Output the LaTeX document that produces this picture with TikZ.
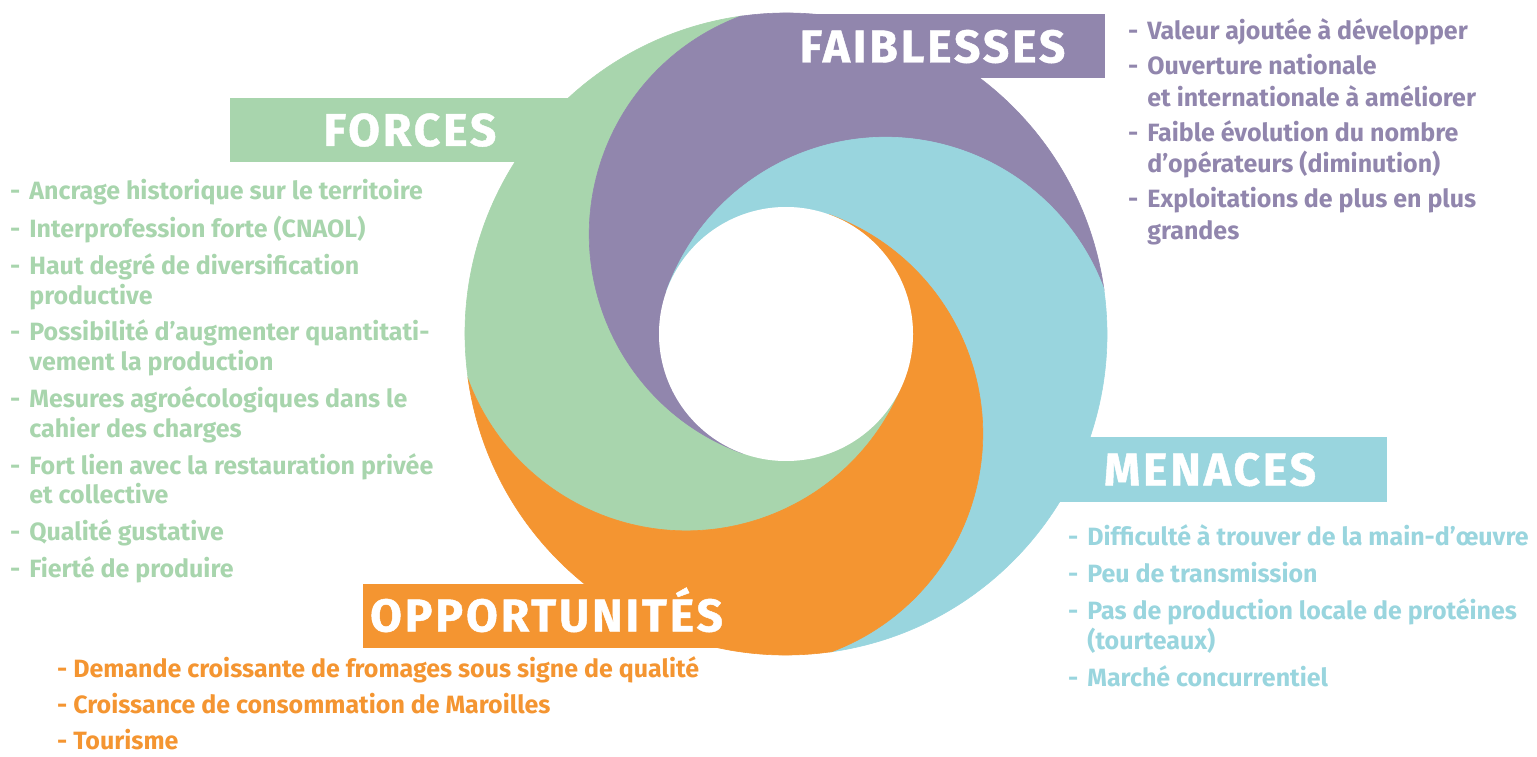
\documentclass[tikz,border=0pt]{standalone}
\usepackage{fontspec}
\setmainfont{Fira Sans}
\newfontfamily\titlefont{Fira Sans}[LetterSpace=6.5, FakeBold=1]
\usetikzlibrary{calc}

\definecolor{grn}{HTML}{A8D5AD}
\definecolor{pur}{HTML}{9186AD}
\definecolor{cyn}{HTML}{99D5DE}
\definecolor{org}{HTML}{F49531}

\newcommand\headfont{\titlefont\bfseries\fontsize{46}{46}\selectfont}
\newcommand\listfont{\bfseries\fontsize{25}{29.8}\selectfont}

\begin{document}
\begin{tikzpicture}[x=1pt, y=1pt,
  titlebox/.style={fill=#1, text=white, font=\headfont, inner sep=0pt,
    minimum height=64pt, text height=32pt, text depth=0pt},
  liste/.style={text=#1, font=\listfont, inner sep=0pt, anchor=base west}]
  \useasboundingbox (0,0) rectangle (1537,756);

  % centre of the ring
  \coordinate (o) at (786,422);

  % swirl: each band runs from its start on the inner circle to the outer circle
  \foreach \c/\f in {grn/160, pur/70, cyn/-20, org/-110}
    \fill[\c, draw=\c, line width=0.6pt] ($(o)+(\f+180:127)$)
      arc[start angle=\f+180, end angle=\f+40.6, radius=233pt]
      arc[start angle=\f+28.2, end angle=\f-61.8, radius=321pt]
      arc[start angle=\f-49.4, end angle=\f+90, radius=233pt]
      arc[start angle=\f+90, end angle=\f+180, radius=127pt] -- cycle;
  \fill[white] (o) circle[radius=127pt];

  % titles
  \node[titlebox=grn, minimum width=360pt] (forces) at (410,626) {FORCES};
  \node[titlebox=pur, minimum width=345pt] (faiblesses) at (932.5,709.5) {FAIBLESSES};
  \node[titlebox=cyn, minimum width=354pt] (menaces) at (1210,286.5) {MENACES};
  \node[titlebox=org, minimum width=367pt] (opportunites) at (546.5,140.5) {OPPORTUNITÉS};

  % lists
  \node[liste=grn] (l-forces) at (10,556) {\begin{tabular}[t]{@{}l@{\hspace{9pt}}l@{}}
    - & Ancrage historique sur le territoire\\[7pt]
    - & Interprofession forte (CNAOL)\\[7pt]
    - & Haut degré de diversification\\
      & productive\\[7pt]
    - & Possibilité d’augmenter quantitati-\\
      & vement la production\\[7pt]
    - & Mesures agroécologiques dans le\\
      & cahier des charges\\[7pt]
    - & Fort lien avec la restauration privée\\
      & et collective\\[7pt]
    - & Qualité gustative\\[7pt]
    - & Fierté de produire
  \end{tabular}};

  \node[liste=pur, font=\bfseries\fontsize{25}{31.5}\selectfont] (l-faiblesses) at (1128,716) {\begin{tabular}[t]{@{}l@{\hspace{9pt}}l@{}}
    - & Valeur ajoutée à développer\\[3.5pt]
    - & Ouverture nationale\\
      & et internationale à améliorer\\[3.5pt]
    - & Faible évolution du nombre\\
      & d’opérateurs (diminution)\\[3.5pt]
    - & Exploitations de plus en plus\\
      & grandes
  \end{tabular}};

  \node[liste=cyn] (l-menaces) at (1068,211) {\begin{tabular}[t]{@{}l@{\hspace{9pt}}l@{}}
    - & Difficulté à trouver de la main-d’œuvre\\[7.2pt]
    - & Peu de transmission\\[7.2pt]
    - & Pas de production locale de protéines\\
      & (tourteaux)\\[7.2pt]
    - & Marché concurrentiel
  \end{tabular}};

  % base of this one is its last line
  \node[liste=org, align=left] (l-opportunites) at (57,6.5) {%
    - Demande croissante de fromages sous signe de qualité\\[6.2pt]
    - Croissance de consommation de Maroilles\\[6.2pt]
    - Tourisme};
\end{tikzpicture}
\end{document}
